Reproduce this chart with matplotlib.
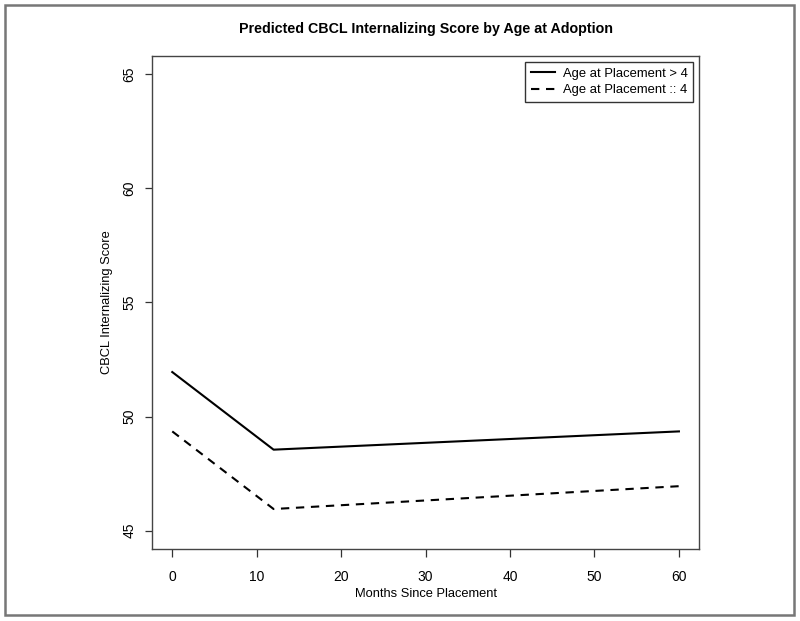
import matplotlib
matplotlib.use("Agg")
import matplotlib.pyplot as plt
from matplotlib.patches import Rectangle

plt.rcParams['font.family'] = ['Liberation Sans', 'DejaVu Sans']

# predicted scores
months = [0, 12, 60]
score_older = [51.95, 48.55, 49.35]    # age at placement > 4
score_younger = [49.35, 45.95, 46.95]  # age at placement <= 4
labels = ['Age at Placement > 4', 'Age at Placement :: 4']

xticks = [0, 10, 20, 30, 40, 50, 60]
yticks = [45, 50, 55, 60, 65]

fig = plt.figure(figsize=(8, 6.21), dpi=100)
ax = fig.add_axes([0.19, 0.116, 0.684, 0.794])

ax.plot(months, score_older, color='black', lw=1.5, label=labels[0])
ax.plot(months, score_younger, color='black', lw=1.5, dashes=(4.0, 3.2), label=labels[1])

ax.set_xlim(-2.4, 62.4)
ax.set_ylim(44.2, 65.8)
ax.set_xticks(xticks)
ax.set_yticks(yticks)
ax.tick_params(axis='both', direction='out', width=0.9, color='#333333', labelsize=10)
ax.tick_params(axis='x', length=6, pad=9)
ax.tick_params(axis='y', length=5, pad=6)
for lab in ax.get_yticklabels():
    lab.set_rotation(90)
    lab.set_va('center')
for sp in ax.spines.values():
    sp.set_color('#444444')
    sp.set_linewidth(1.0)

ax.set_xlabel('Months Since Placement', fontsize=9.3)
ax.set_ylabel('CBCL Internalizing Score', fontsize=9.3)
ax.xaxis.set_label_coords(0.5, -0.079)
ax.yaxis.set_label_coords(-0.071, 0.5)
ax.set_title('Predicted CBCL Internalizing Score by Age at Adoption',
             fontsize=10.3, fontweight='bold', pad=16.5)

leg = ax.legend(loc='upper right', fontsize=9.4, frameon=True, fancybox=False,
                edgecolor='black', handlelength=1.9, handletextpad=0.55,
                borderpad=0.45, labelspacing=0.35, borderaxespad=0.45)
leg.get_frame().set_linewidth(1.0)

# outer frame around the whole figure
fig.patches.append(Rectangle((5 / 800, 6 / 621), 789 / 800, 610 / 621,
                             transform=fig.transFigure, fill=False,
                             edgecolor='#777777', lw=1.8))

fig.savefig('out.png', dpi=100)
